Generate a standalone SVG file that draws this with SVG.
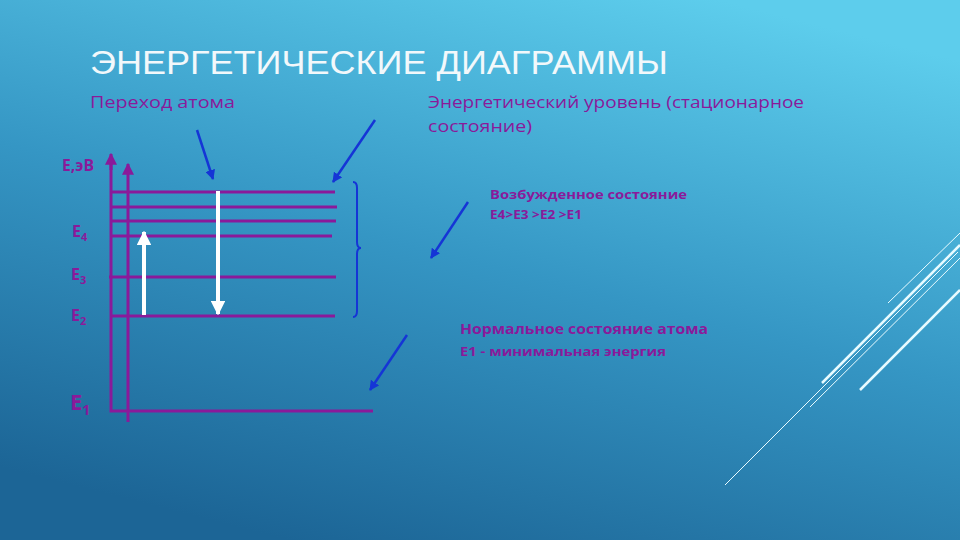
<svg xmlns="http://www.w3.org/2000/svg" width="960" height="540" viewBox="0 0 960 540">
<defs>
<linearGradient id="bg" x1="0.75" y1="0" x2="0.3" y2="1">
<stop offset="0" stop-color="#5dcdec"/>
<stop offset="0.5" stop-color="#3596c4"/>
<stop offset="1" stop-color="#1c6596"/>
</linearGradient>
<marker id="blueHead" viewBox="0 0 10 10" refX="9" refY="5" markerWidth="4" markerHeight="4" orient="auto" markerUnits="strokeWidth">
<path d="M0,0 L10,5 L0,10 Z" fill="#1535d6"/>
</marker>
<marker id="whiteHead" viewBox="0 0 10 10" refX="9" refY="5" markerWidth="3.6" markerHeight="3.6" orient="auto" markerUnits="strokeWidth">
<path d="M0,0 L10,5 L0,10 Z" fill="#ffffff"/>
</marker>
<marker id="purpleHead" viewBox="0 0 10 10" refX="9" refY="5" markerWidth="4" markerHeight="4" orient="auto" markerUnits="strokeWidth">
<path d="M0,0 L10,5 L0,10 Z" fill="#8a1a9a"/>
</marker>
<style>
.title{font-family:"Liberation Sans",Arial,sans-serif;font-size:33px;fill:#f2f8fb}
.lbl{font-family:"Open Sans","Liberation Sans",sans-serif;fill:#8a1a9a}
.lvl{stroke:#8a1a9a;stroke-width:3;fill:none}
.axis{stroke:#8a1a9a;stroke-width:3;fill:none}
.blue{stroke:#1535d6;stroke-width:2.5;fill:none}
.wh{stroke:#ffffff;stroke-width:4;fill:none}
.deco{stroke:#e8fbff;fill:none}
</style>
</defs>
<rect width="960" height="540" fill="url(#bg)"/>

<g id="decor">
<line class="deco" x1="725" y1="485" x2="958" y2="252" stroke-width="1"/>
<line class="deco" x1="822" y1="383" x2="960" y2="245" stroke-width="2.5"/>
<line class="deco" x1="810" y1="407" x2="960" y2="258" stroke-width="1"/>
<line class="deco" x1="860" y1="390" x2="960" y2="290" stroke-width="2.5"/>
<line class="deco" x1="888" y1="303" x2="960" y2="233" stroke-width="1"/>
</g>

<g id="title"><text class="title" x="90" y="74" textLength="578" lengthAdjust="spacingAndGlyphs">ЭНЕРГЕТИЧЕСКИЕ ДИАГРАММЫ</text></g>

<g id="label-transition"><text class="lbl" x="90" y="108" font-size="16" textLength="145" lengthAdjust="spacingAndGlyphs">Переход атома</text></g>
<g id="label-level">
<text class="lbl" x="428" y="108" font-size="16" textLength="376" lengthAdjust="spacingAndGlyphs">Энергетический уровень (стационарное</text>
<text class="lbl" x="428" y="132" font-size="16" textLength="104" lengthAdjust="spacingAndGlyphs">состояние)</text>
</g>
<g id="label-excited">
<text class="lbl" x="490" y="199" font-size="13" font-weight="bold" textLength="197" lengthAdjust="spacingAndGlyphs">Возбужденное состояние</text>
<text class="lbl" x="490" y="219" font-size="12" font-weight="bold" textLength="92" lengthAdjust="spacingAndGlyphs">Е4&gt;Е3 &gt;Е2 &gt;Е1</text>
</g>
<g id="label-normal">
<text class="lbl" x="460" y="334" font-size="14" font-weight="bold" textLength="248" lengthAdjust="spacingAndGlyphs">Нормальное состояние атома</text>
<text class="lbl" x="460" y="356" font-size="13" font-weight="bold" textLength="206" lengthAdjust="spacingAndGlyphs">Е1 - минимальная энергия</text>
</g>

<g id="axis-labels" class="lbl" font-weight="bold">
<text x="62" y="171" font-size="16" textLength="32" lengthAdjust="spacingAndGlyphs">Е,эВ</text>
<text x="72" y="237" font-size="16">Е<tspan font-size="11" dy="4">4</tspan></text>
<text x="71" y="280" font-size="16">Е<tspan font-size="11" dy="4">3</tspan></text>
<text x="71" y="321" font-size="16">Е<tspan font-size="11" dy="4">2</tspan></text>
<text x="70" y="410" font-size="22">Е<tspan font-size="14" dy="5">1</tspan></text>
</g>

<g id="axes">
<polyline class="axis" points="373,411 111,411 111,158" />
<line class="axis" x1="111" y1="170" x2="111" y2="154" marker-end="url(#purpleHead)"/>
<line class="axis" x1="128" y1="422" x2="128" y2="164" marker-end="url(#purpleHead)"/>
</g>

<g id="levels">
<line class="lvl" x1="111" y1="192" x2="335" y2="192"/>
<line class="lvl" x1="111" y1="207" x2="337" y2="207"/>
<line class="lvl" x1="111" y1="221" x2="336" y2="221"/>
<line class="lvl" x1="111" y1="236" x2="332" y2="236"/>
<line class="lvl" x1="109" y1="277" x2="336" y2="277"/>
<line class="lvl" x1="111" y1="316" x2="335" y2="316"/>
</g>

<g id="connectors">
<line class="wh" x1="144" y1="315" x2="144" y2="232" marker-end="url(#whiteHead)"/>
<line class="wh" x1="218" y1="191" x2="218" y2="314" marker-end="url(#whiteHead)"/>
<line class="blue" x1="197" y1="130" x2="213" y2="179" marker-end="url(#blueHead)"/>
<line class="blue" x1="375" y1="120" x2="333" y2="182" marker-end="url(#blueHead)"/>
<line class="blue" x1="468" y1="202" x2="431" y2="258" marker-end="url(#blueHead)"/>
<line class="blue" x1="407" y1="335" x2="370" y2="390" marker-end="url(#blueHead)"/>
<path d="M353,182 Q357,182 357,188 L357,242 Q357,248 361,248 Q357,248 357,254 L357,311 Q357,317 353,317" stroke="#1535d6" stroke-width="2" fill="none"/>
</g>
</svg>
